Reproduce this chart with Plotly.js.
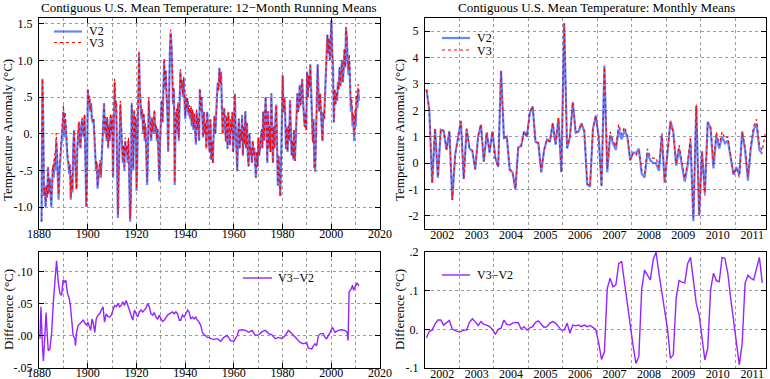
<!DOCTYPE html>
<html><head><meta charset="utf-8">
<script src="https://cdn.plot.ly/plotly-3.0.1.min.js"></script>
<style>html,body{margin:0;padding:0;background:#fff}#c{width:770px;height:379px}</style>
</head><body><div id="c"></div>
<script>
const FONT = 'Liberation Serif';

// ---- 12-month running means: three readings per year from 1881 ----
const rmStartYear = 1881;
const rmFractions = [0.05, 0.4, 0.72];
const rmV2 = [
 -1.2,0.75,0.2, -0.85,-0.75,-1.0, -0.7,-0.85,-0.45, -0.8,-0.6,-0.9, -1.0,-0.7,-0.45,
 -0.6,-0.35,-0.5, -0.1,-0.3,-0.6, -0.9,-0.55,-0.3, -0.2,-0.05,0.15,
 0.3,-0.05,0.2, 0.05,-0.2,-0.35, -0.4,-0.55,-0.45, -0.9,-0.6,-0.8, -0.2,0.05,-0.3,
 -0.55,-0.75,-0.2, 0.05,0.15,-0.1, -0.2,0.1,0.2, 0.05,-0.05,0.25, -0.3,-1.0,-0.5,
 0.6,0.4,0.5, 0.3,0.4,0.2, 0.15,0.2,-0.1, -0.25,-0.5,-0.4, -0.75,-0.6,-0.5,
 -0.4,-0.6,-0.3, -0.1,0.05,0.4, 0.0,0.2,-0.1, 0.2,-0.2,0.1, -0.1,0.25,0.0,
 0.2,-0.6,0.0, 0.7,0.3,0.4, -0.4,-1.15,-0.6, -0.2,0.4,0.1, -0.1,-0.4,-0.2,
 -0.5,-0.1,-0.3, -0.2,-0.4,-0.1, -0.6,-1.2,-0.9, 0.4,0.1,-0.5, 0.3,-0.1,0.2,
 -0.78,-0.3,0.3, 1.1,0.6,0.3, 0.2,0.3,0.0, 0.25,-0.1,0.1, -0.45,-0.7,-0.3,
 0.45,0.2,0.1, -0.1,0.2,0.0, 0.15,0.3,0.0, 0.1,-0.1,0.05, -0.3,-0.65,-0.1,
 0.3,0.45,0.15, 0.5,1.0,0.6, 0.85,0.5,0.3, -0.25,0.9,1.1, 1.38,1.2,0.8,
 0.4,0.6,-0.7, 0.1,0.3,0.0, 0.4,-0.1,0.5, 0.85,0.6,0.7, 0.5,0.75,0.45,
 0.2,0.5,0.3, 0.45,0.25,0.35, 0.2,0.35,0.1, 0.3,0.05,0.25, 0.1,-0.15,0.3,
 0.05,0.2,-0.1, 0.6,0.3,0.5, 0.15,-0.05,0.3, 0.0,0.15,-0.2, 0.3,0.1,-0.05,
 -0.25,0.2,-0.35, -0.1,-0.4,0.05, 0.25,0.0,0.35, 0.5,0.7,0.6, 0.9,0.7,0.85,
 0.3,0.0,0.25, 0.35,0.1,-0.1, 0.25,-0.2,0.3, 0.0,-0.15,0.2, 0.05,0.3,-0.25,
 0.0,0.55,0.1, -0.25,-0.5,0.0, 0.2,-0.2,0.05, -0.1,0.25,-0.3, 0.1,-0.15,0.3,
 -0.2,0.15,-0.3, -0.45,0.0,-0.3, -0.2,-0.4,-0.1, -0.3,-0.2,-0.4, -0.6,-0.25,-0.45,
 -0.05,-0.3,-0.2, -0.1,0.05,-0.2, 0.3,-0.1,0.35, 0.5,0.1,-0.4, 0.3,-0.2,0.1,
 -0.25,0.55,0.0, -0.4,0.1,-0.2, 0.2,0.4,-0.1, -0.7,-0.3,-0.5, -0.85,-0.4,0.2,
 0.8,0.3,0.5, 0.3,-0.2,0.1, -0.25,0.1,-0.1, 0.45,0.0,-0.3, -0.1,-0.35,0.05,
 -0.37,-0.1,0.2, 0.55,0.3,0.4, 0.67,0.4,0.5, 0.75,0.45,0.25, 0.1,0.3,0.05,
 0.85,0.5,0.8, 0.65,0.95,0.5, 0.4,-0.1,0.2, -0.45,-0.5,0.05, 0.5,0.95,0.6,
 0.3,0.55,0.15, 0.1,-0.1,0.3, 0.2,0.5,0.95, 1.2,1.35,1.1, 1.3,1.0,1.35,
 1.55,1.1,0.9, 0.15,0.6,0.4, 0.55,0.45,0.7, 0.6,0.9,0.65, 0.8,1.0,0.7,
 0.85,1.15,0.9, 1.45,1.3,1.0, 0.8,1.0,0.7, 0.3,0.4,0.1, 0.2,-0.1,0.25,
 0.1,0.5,0.35, 0.6,0.45
];
const rmV3 = [
 -1.2,0.75,0.2, -0.83,-0.73,-0.98, -0.72,-0.87,-0.47, -0.82,-0.62,-0.92, -0.97,-0.67,-0.42,
 -0.52,-0.27,-0.42, 0.01,-0.19,-0.49, -0.83,-0.48,-0.23, -0.13,0.02,0.22,
 0.39,0.04,0.29, 0.13,-0.13,-0.28, -0.35,-0.5,-0.4, -0.87,-0.57,-0.77, -0.2,0.05,-0.3,
 -0.56,-0.76,-0.21, 0.07,0.17,-0.09, -0.18,0.12,0.22, 0.07,-0.03,0.27, -0.28,-0.98,-0.48,
 0.62,0.42,0.52, 0.32,0.42,0.22, 0.17,0.22,-0.09, -0.23,-0.48,-0.38, -0.72,-0.57,-0.47,
 -0.36,-0.56,-0.26, -0.07,0.09,0.44, 0.03,0.23,-0.07, 0.23,-0.17,0.13, -0.07,0.28,0.03,
 0.24,-0.57,0.04, 0.75,0.35,0.45, -0.35,-1.1,-0.55, -0.15,0.45,0.15, -0.05,-0.35,-0.15,
 -0.45,-0.05,-0.25, -0.15,-0.35,-0.05, -0.56,-1.16,-0.86, 0.43,0.13,-0.47, 0.34,-0.07,0.24,
 -0.75,-0.27,0.33, 1.14,0.64,0.34, 0.24,0.34,0.04, 0.29,-0.06,0.14, -0.4,-0.65,-0.25,
 0.49,0.24,0.14, -0.07,0.23,0.03, 0.18,0.33,0.03, 0.13,-0.07,0.08, -0.27,-0.62,-0.07,
 0.32,0.47,0.17, 0.53,1.03,0.63, 0.88,0.53,0.33, -0.22,0.93,1.13, 1.42,1.24,0.84,
 0.44,0.64,-0.67, 0.14,0.34,0.04, 0.43,-0.07,0.53, 0.88,0.63,0.73, 0.53,0.78,0.48,
 0.24,0.54,0.34, 0.49,0.29,0.39, 0.23,0.38,0.13, 0.33,0.08,0.28, 0.13,-0.12,0.33,
 0.07,0.22,-0.08, 0.62,0.32,0.52, 0.15,-0.05,0.3, 0.0,0.15,-0.2, 0.3,0.1,-0.05,
 -0.26,0.19,-0.36, -0.11,-0.41,0.04, 0.24,-0.01,0.34, 0.49,0.69,0.59, 0.89,0.69,0.84,
 0.29,-0.01,0.24, 0.34,0.09,-0.11, 0.24,-0.21,0.29, -0.01,-0.16,0.19, 0.04,0.29,-0.26,
 -0.01,0.54,0.09, -0.26,-0.51,-0.01, 0.21,-0.19,0.06, -0.09,0.26,-0.29, 0.11,-0.14,0.31,
 -0.19,0.16,-0.29, -0.44,0.01,-0.29, -0.19,-0.39,-0.09, -0.29,-0.19,-0.39, -0.6,-0.25,-0.45,
 -0.05,-0.3,-0.2, -0.09,0.06,-0.19, 0.31,-0.09,0.36, 0.51,0.11,-0.39, 0.31,-0.19,0.11,
 -0.25,0.55,0.0, -0.4,0.1,-0.2, 0.19,0.39,-0.11, -0.71,-0.31,-0.51, -0.86,-0.41,0.19,
 0.79,0.29,0.49, 0.29,-0.21,0.09, -0.24,0.11,-0.09, 0.46,0.01,-0.29, -0.09,-0.34,0.06,
 -0.37,-0.1,0.2, 0.55,0.3,0.4, 0.66,0.39,0.49, 0.74,0.44,0.24, 0.09,0.29,0.04,
 0.84,0.49,0.79, 0.63,0.93,0.48, 0.38,-0.12,0.18, -0.47,-0.52,0.03, 0.49,0.94,0.59,
 0.3,0.55,0.15, 0.1,-0.1,0.3, 0.2,0.5,0.95, 1.2,1.35,1.1, 1.31,1.01,1.36,
 1.56,1.11,0.91, 0.16,0.61,0.41, 0.56,0.46,0.71, 0.61,0.91,0.66, 0.81,1.01,0.71,
 0.86,1.16,0.91, 1.46,1.31,1.01, 0.88,1.08,0.78, 0.38,0.48,0.18, 0.28,-0.02,0.33,
 0.18,0.58,0.43, 0.68,0.53
];

// ---- V3-V2 difference of running means ----
const diffYears = [1880.4,1880.8,1881.4,1881.8,1882.4,1882.9,1883.4,1883.8,1884.5,1885.2,1885.9,1886.5,1887.2,1887.9,1888.6,1889.3,1889.9,1890.6,1891.0,1891.7,1892.4,1892.9,1893.3,1894.0,1894.7,1895.0,1895.4,1896.1,1896.7,1897.4,1898.1,1898.8,1899.5,1900.1,1900.8,1901.2,1901.8,1902.2,1902.9,1903.5,1904.2,1904.9,1905.6,1906.3,1906.9,1907.6,1908.3,1909.0,1909.7,1910.3,1911.0,1911.7,1912.4,1913.1,1913.7,1914.4,1915.1,1915.8,1916.5,1917.1,1917.8,1918.5,1919.2,1919.9,1920.5,1921.2,1921.9,1922.6,1923.3,1923.9,1924.6,1925.3,1926.0,1926.7,1927.3,1928.0,1928.7,1929.4,1930.1,1930.7,1931.4,1932.1,1932.8,1933.5,1934.1,1934.8,1935.5,1936.2,1936.9,1937.6,1938.2,1938.9,1939.6,1940.3,1941.0,1941.6,1942.3,1943.0,1943.7,1944.4,1945.0,1945.7,1946.4,1947.1,1947.8,1948.4,1949.1,1949.8,1950.5,1951.8,1953.2,1954.6,1955.9,1957.3,1958.6,1960.0,1961.4,1962.0,1963.4,1964.8,1966.1,1967.5,1968.8,1970.2,1971.6,1972.9,1974.3,1975.6,1977.0,1978.4,1979.7,1981.1,1982.4,1983.8,1984.5,1985.9,1987.2,1988.6,1989.9,1990.6,1992.0,1992.7,1993.3,1994.0,1994.7,1995.6,1996.7,1997.4,1998.1,1999.5,2000.5,2001.5,2002.9,2004.2,2005.6,2006.5,2006.9,2007.3,2008.3,2008.7,2009.2,2010.1,2010.6,2011.4];
const diffVals = [-0.005,0.045,-0.016,-0.04,0.0,0.036,0.0,-0.024,-0.021,0.005,0.053,0.084,0.117,0.084,0.066,0.063,0.087,0.084,0.087,0.066,0.058,0.047,0.026,0.0,-0.005,-0.016,0.005,0.016,0.018,0.021,0.024,0.02,0.016,0.021,0.013,0.008,0.026,0.021,0.005,0.026,0.032,0.034,0.04,0.045,0.021,0.034,0.03,0.029,0.032,0.04,0.047,0.045,0.05,0.045,0.047,0.053,0.047,0.055,0.047,0.037,0.032,0.024,0.04,0.034,0.029,0.037,0.04,0.037,0.04,0.043,0.05,0.045,0.034,0.032,0.036,0.029,0.026,0.032,0.026,0.022,0.024,0.029,0.032,0.034,0.036,0.037,0.034,0.037,0.034,0.024,0.024,0.032,0.029,0.034,0.04,0.037,0.026,0.029,0.026,0.029,0.024,0.021,0.016,0.005,0.001,0.0,-0.003,-0.003,-0.005,-0.006,-0.005,-0.009,-0.003,0.0,-0.008,-0.009,0.0,0.008,0.009,0.008,0.005,0.008,0.0,0.001,0.006,0.008,0.003,0.001,-0.005,-0.003,-0.005,0.0,0.008,0.003,0.0,-0.005,-0.011,-0.013,-0.011,-0.02,-0.021,-0.016,-0.013,-0.016,0.0,0.003,0.003,-0.003,-0.005,0.005,0.013,0.005,0.008,0.009,0.008,0.005,-0.008,0.068,0.074,0.079,0.071,0.079,0.082,0.078];

// ---- Monthly means, Jan 2002 onward ----
const monthlyStartYear = 2002;
const mV2 = [
 2.8,2.0,-0.75,1.3,-0.55,1.27,1.22,0.5,1.2,-1.4,0.3,1.0,
 1.6,-0.6,1.3,0.55,0.45,-0.25,1.0,1.45,0.05,1.15,0.4,1.2,
 0.2,-0.15,3.5,0.95,1.0,-0.25,-0.35,-1.0,0.6,0.65,1.2,1.0,
 1.9,2.15,0.8,0.75,-0.35,0.5,0.9,0.8,1.5,0.7,1.7,-0.35,
 5.3,0.55,1.0,2.3,1.15,1.2,1.5,1.2,-0.8,-0.9,1.3,1.8,
 1.0,-0.85,3.7,-0.35,1.05,0.75,0.5,1.3,0.9,1.25,1.0,0.1,
 0.4,0.38,0.55,-0.4,-0.55,0.4,0.1,0.0,0.0,-0.3,1.05,-0.75,
 0.5,1.6,1.2,-0.1,0.55,-0.1,-0.7,-0.1,0.8,-2.2,2.15,-2.0,
 0.45,-1.15,1.57,1.3,-0.2,1.05,0.55,1.0,0.75,0.85,0.2,-0.45,
 -0.15,-0.45,1.2,0.5,-0.67,0.56,1.26,1.5,0.5,0.35
];
const mV3 = [
 2.78,2.0,-0.75,1.31,-0.53,1.29,1.23,0.52,1.22,-1.4,0.3,0.99,
 1.59,-0.6,1.3,0.57,0.48,-0.23,1.01,1.47,0.06,1.16,0.41,1.2,
 0.19,-0.15,3.5,0.97,1.01,-0.24,-0.33,-0.98,0.62,0.65,1.21,1.0,
 1.9,2.16,0.82,0.77,-0.34,0.5,0.91,0.82,1.52,0.72,1.71,-0.35,
 5.3,0.57,0.99,2.31,1.16,1.21,1.51,1.21,-0.79,-0.89,1.31,1.8,
 0.97,-0.93,3.64,-0.24,1.18,0.86,0.62,1.47,1.08,1.37,1.06,0.12,
 0.36,0.29,0.48,-0.3,-0.4,0.54,0.23,0.18,0.2,-0.16,1.14,-0.7,
 0.5,1.53,1.13,-0.02,0.68,0.02,-0.58,0.07,0.99,-2.07,2.22,-1.96,
 0.43,-1.23,1.52,1.4,-0.06,1.18,0.67,1.19,0.93,1.0,0.28,-0.43,
 -0.19,-0.54,1.16,0.62,-0.53,0.69,1.39,1.66,0.69,0.47,1.1
];
const mDiff = [
 -0.022,-0.005,-0.002,0.014,0.024,0.024,0.011,0.016,0.023,0.0,-0.004,-0.006,
 -0.006,-0.002,-0.002,0.018,0.027,0.02,0.01,0.02,0.013,0.011,0.007,0.0,
 -0.013,0.0,0.003,0.024,0.013,0.011,0.016,0.018,0.017,0.001,0.007,-0.002,
 0.004,0.007,0.018,0.022,0.013,0.005,0.007,0.016,0.02,0.016,0.007,-0.002,
 -0.002,0.016,-0.01,0.011,0.009,0.011,0.007,0.011,0.007,0.01,0.005,0.0,
 -0.035,-0.078,-0.058,0.106,0.132,0.11,0.115,0.17,0.176,0.12,0.06,0.016,
 -0.043,-0.088,-0.07,0.104,0.153,0.14,0.128,0.18,0.2,0.145,0.093,0.046,
 0.0,-0.075,-0.066,0.08,0.126,0.122,0.12,0.17,0.186,0.128,0.067,0.037,
 -0.019,-0.079,-0.049,0.102,0.145,0.126,0.123,0.186,0.183,0.145,0.08,0.02,
 -0.036,-0.092,-0.036,0.119,0.14,0.132,0.128,0.16,0.186,0.12
];

const longTickVals = [1880,1900,1920,1940,1960,1980,2000,2020];
const longTickText = ['1880','1900','1920','1940','1960','1980','2000','2020'];
const yearTickVals = [2002,2003,2004,2005,2006,2007,2008,2009,2010,2011];
const rmTickVals = [-1,-0.5,0,0.5,1,1.5];
const rmTickText = ['-1.0','-.5','0.','.5','1.0','1.5'];
const mTickVals = [-2,-1,0,1,2,3,4,5];
const mTickText = ['-2','-1','0','1','2','3','4','5'];
const dTickVals = [-0.05,0,0.05,0.10];
const dTickText = ['-.05','.00','.05','.10'];
const mdTickVals = [-0.1,0,0.1,0.2];
const mdTickText = ['-.1','0.','.1','.2'];

// x coordinates
const rmX = rmV2.map((_, k) => rmStartYear + Math.floor(k / 3) + rmFractions[k % 3]);
const monthX = n => Array.from({length: n}, (_, i) => monthlyStartYear + (i + 0.5) / 12);

const BLUE = 'rgba(45,85,255,0.72)';
const RED = 'rgb(255,0,0)';
const PURPLE = 'rgb(150,35,255)';

const traces = [
  {x: rmX, y: rmV2, xaxis:'x', yaxis:'y', mode:'lines', line:{color:BLUE, width:2.2}, showlegend:false},
  {x: rmX, y: rmV3, xaxis:'x', yaxis:'y', mode:'lines', line:{color:RED, width:1.2, dash:'dot'}, showlegend:false},
  {x: monthX(mV2.length), y: mV2, xaxis:'x2', yaxis:'y2', mode:'lines', line:{color:BLUE, width:2.2}, showlegend:false},
  {x: monthX(mV3.length), y: mV3, xaxis:'x2', yaxis:'y2', mode:'lines', line:{color:RED, width:1.2, dash:'dot'}, showlegend:false},
  {x: diffYears, y: diffVals, xaxis:'x3', yaxis:'y3', mode:'lines', line:{color:PURPLE, width:1.4}, showlegend:false},
  {x: monthX(mDiff.length), y: mDiff, xaxis:'x4', yaxis:'y4', mode:'lines', line:{color:PURPLE, width:1.4}, showlegend:false}
];

const px = v => v / 770;
const py = v => 1 - v / 379;
const GRID = '#9a9a9a';
const tickFont = {family: FONT, size: 12, color: '#000'};

function baseAxis(extra) {
  return Object.assign({
    showline: true, linecolor: '#000', linewidth: 1, mirror: 'ticks',
    ticks: 'inside', ticklen: 5, tickwidth: 1, tickcolor: '#000',
    showgrid: true, gridcolor: GRID, griddash: 'dot', gridwidth: 1,
    zeroline: false, tickfont: tickFont, fixedrange: true
  }, extra);
}

const longX = d => baseAxis({domain: d, range: [1880, 2020], tickmode: 'array', tickvals: longTickVals, ticktext: longTickText,
  minor: {tick0: 1880, dtick: 10, showgrid: true, gridcolor: GRID, griddash: 'dot', ticklen: 0}, ticklabelstandoff: -6});
const monX = d => baseAxis({domain: d, range: [2002, 2011.9], tickmode: 'array',
  tickvals: yearTickVals.map(v => v + 0.5), ticktext: yearTickVals.map(String), ticklen: 0, showgrid: false,
  minor: {tick0: 2002, dtick: 1, showgrid: true, gridcolor: GRID, griddash: 'dot', ticklen: 0}, ticklabelstandoff: -5});

const topDom = [py(229), py(18)];
const botDom = [py(368), py(252)];
const leftDom = [px(39), px(380)];
const rightDom = [px(425), px(766)];

const layout = {
  width: 770, height: 379,
  margin: {l: 0, r: 0, t: 0, b: 0},
  paper_bgcolor: '#fff', plot_bgcolor: '#fff',
  font: {family: FONT, color: '#000'},
  showlegend: false,
  xaxis: Object.assign(longX(leftDom), {anchor: 'y'}),
  yaxis: baseAxis({domain: topDom, range: [-1.3, 1.58], tickmode: 'array', tickvals: rmTickVals, ticktext: rmTickText, anchor: 'x', ticklabelstandoff: 3}),
  xaxis2: Object.assign(monX(rightDom), {anchor: 'y2'}),
  yaxis2: baseAxis({domain: topDom, range: [-2.5, 5.5], tickmode: 'array', tickvals: mTickVals, ticktext: mTickText, anchor: 'x2', ticklabelstandoff: 3}),
  xaxis3: Object.assign(longX(leftDom), {anchor: 'y3'}),
  yaxis3: baseAxis({domain: botDom, range: [-0.051, 0.131], tickmode: 'array', tickvals: dTickVals, ticktext: dTickText, anchor: 'x3', ticklabelstandoff: 3}),
  xaxis4: Object.assign(monX(rightDom), {anchor: 'y4'}),
  yaxis4: baseAxis({domain: botDom, range: [-0.1, 0.2], tickmode: 'array', tickvals: mdTickVals, ticktext: mdTickText, anchor: 'x4', ticklabelstandoff: 3}),
  shapes: [
    {type:'line', xref:'paper', yref:'paper', x0:px(54), x1:px(82), y0:py(31.5), y1:py(31.5), line:{color:BLUE, width:2.2}},
    {type:'line', xref:'paper', yref:'paper', x0:px(54), x1:px(82), y0:py(42.5), y1:py(42.5), line:{color:RED, width:1.2, dash:'dot'}},
    {type:'line', xref:'paper', yref:'paper', x0:px(442), x1:px(470), y0:py(38), y1:py(38), line:{color:BLUE, width:2.2}},
    {type:'line', xref:'paper', yref:'paper', x0:px(442), x1:px(470), y0:py(50), y1:py(50), line:{color:RED, width:1.2, dash:'dot'}},
    {type:'line', xref:'paper', yref:'paper', x0:px(243), x1:px(272), y0:py(278), y1:py(278), line:{color:PURPLE, width:1.4}},
    {type:'line', xref:'paper', yref:'paper', x0:px(442), x1:px(470), y0:py(275), y1:py(275), line:{color:PURPLE, width:1.4}}
  ],
  annotations: [
    {text:'Contiguous U.S. Mean Temperature: 12\u2212Month Running Means', xref:'paper', yref:'paper', x:px(209), y:py(8), xanchor:'center', yanchor:'middle', showarrow:false, font:{family:FONT, size:13}},
    {text:'Contiguous U.S. Mean Temperature: Monthly Means', xref:'paper', yref:'paper', x:px(596), y:py(8), xanchor:'center', yanchor:'middle', showarrow:false, font:{family:FONT, size:13}},
    {text:'Temperature Anomaly (\u00B0C)', xref:'paper', yref:'paper', x:px(8), y:py(130), textangle:-90, xanchor:'center', yanchor:'middle', showarrow:false, font:{family:FONT, size:13}},
    {text:'Temperature Anomaly (\u00B0C)', xref:'paper', yref:'paper', x:px(400), y:py(130), textangle:-90, xanchor:'center', yanchor:'middle', showarrow:false, font:{family:FONT, size:13}},
    {text:'Difference (\u00B0C)', xref:'paper', yref:'paper', x:px(8), y:py(310), textangle:-90, xanchor:'center', yanchor:'middle', showarrow:false, font:{family:FONT, size:13}},
    {text:'Difference (\u00B0C)', xref:'paper', yref:'paper', x:px(399), y:py(310), textangle:-90, xanchor:'center', yanchor:'middle', showarrow:false, font:{family:FONT, size:13}},
    {text:'V2', xref:'paper', yref:'paper', x:px(87), y:py(31), xanchor:'left', yanchor:'middle', showarrow:false, font:{family:FONT, size:12}},
    {text:'V3', xref:'paper', yref:'paper', x:px(87), y:py(43), xanchor:'left', yanchor:'middle', showarrow:false, font:{family:FONT, size:12}},
    {text:'V2', xref:'paper', yref:'paper', x:px(475), y:py(37.5), xanchor:'left', yanchor:'middle', showarrow:false, font:{family:FONT, size:12}},
    {text:'V3', xref:'paper', yref:'paper', x:px(475), y:py(50.5), xanchor:'left', yanchor:'middle', showarrow:false, font:{family:FONT, size:12}},
    {text:'V3\u2212V2', xref:'paper', yref:'paper', x:px(276), y:py(278), xanchor:'left', yanchor:'middle', showarrow:false, font:{family:FONT, size:12}},
    {text:'V3\u2212V2', xref:'paper', yref:'paper', x:px(475), y:py(275), xanchor:'left', yanchor:'middle', showarrow:false, font:{family:FONT, size:12}}
  ]
};

Plotly.newPlot('c', traces, layout, {displayModeBar: false, staticPlot: true});
</script>
</body></html>
